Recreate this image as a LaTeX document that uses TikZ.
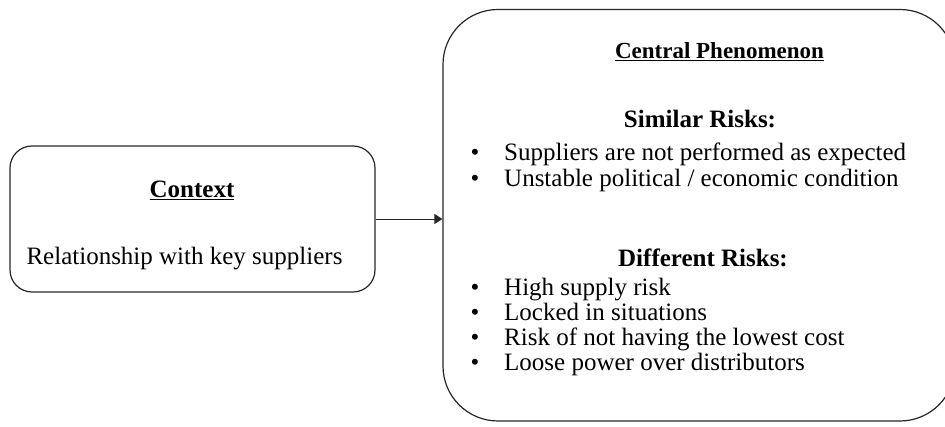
\documentclass[tikz,border=0pt]{standalone}
\usepackage{fontspec}
\setmainfont{Liberation Serif}
\usetikzlibrary{arrows.meta}
\begin{document}
\begin{tikzpicture}[x=1pt,y=1pt,
  boxstyle/.style={draw=black!85,line width=1.2pt,rounded corners=#1,inner sep=0pt},
  txt/.style={font=\fontsize{25}{28}\selectfont,inner sep=0pt},
  titletxt/.style={font=\fontsize{23}{26}\selectfont,inner sep=0pt},
  conn/.style={draw=black!85,line width=0.9pt,-{Triangle[length=8pt,width=10pt]}}]
\useasboundingbox (0,0) rectangle (945,427);
\clip (0,0) rectangle (945,427);
% boxes (image y flipped: y = 427 - y_img)
\node[boxstyle=22pt,minimum width=365pt,minimum height=146pt] (ctx) at (192.5,208) {};
\node[boxstyle=55pt,minimum width=512pt,minimum height=411.5pt] (cp) at (699,211.75) {};
% connector
\draw[conn] (ctx.east) -- (ctx.east -| cp.west);
% left texts
\node[txt,anchor=base] (ctxtitle) at (192,229) {\textbf{\underline{Context}}};
\node[txt,anchor=base] (ctxbody) at (184.5,162) {Relationship with key suppliers};
% right texts
\node[titletxt,anchor=base] (cptitle) at (719.5,368) {\textbf{\underline{Central Phenomenon}}};
\node[txt,anchor=base] (simh) at (700,299) {\textbf{Similar Risks:}};
\node[txt,anchor=base] (b1) at (475,266) {•};
\node[txt,anchor=base west] (s1) at (504,266) {Suppliers are not performed as expected};
\node[txt,anchor=base] (b2) at (475,240) {•};
\node[txt,anchor=base west] (s2) at (504,240) {Unstable political / economic condition};
\node[txt,anchor=base] (difh) at (703,160) {\textbf{Different Risks:}};
\node[txt,anchor=base] (b3) at (475,131) {•};
\node[txt,anchor=base west] (d1) at (504,131) {High supply risk};
\node[txt,anchor=base] (b4) at (475,106) {•};
\node[txt,anchor=base west] (d2) at (504,106) {Locked in situations};
\node[txt,anchor=base] (b5) at (475,81) {•};
\node[txt,anchor=base west] (d3) at (504,81) {Risk of not having the lowest cost};
\node[txt,anchor=base] (b6) at (475,56) {•};
\node[txt,anchor=base west] (d4) at (504,56) {Loose power over distributors};
\end{tikzpicture}
\end{document}
